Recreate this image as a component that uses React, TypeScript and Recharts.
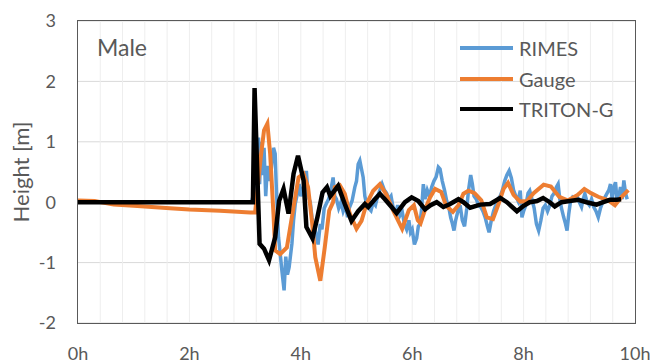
import React from "react";
import {
  LineChart,
  Line,
  XAxis,
  YAxis,
  CartesianGrid,
  ReferenceLine,
} from "recharts";

const xTicks = [0, 2, 4, 6, 8, 10];
const yTicks = [-2, -1, 0, 1, 2, 3];
const verticalGrid = [0.4, 0.8, 1.2, 1.6, 2, 2.4, 2.8, 3.2, 3.6, 4, 4.4, 4.8, 5.2, 5.6, 6, 6.4, 6.8, 7.2, 7.6, 8, 8.4, 8.8, 9.2, 9.6];

const rimes: [number, number][] = [
  [0, 0], [3.05, 0], [3.12, 0.02], [3.2, 0.3], [3.24, 1.07], [3.26, 0.3], [3.29, 1.0], [3.31, 0.45],
  [3.34, 0.9], [3.37, 0.1], [3.4, 0.6], [3.44, 0.35], [3.47, 0.55], [3.51, 0.9], [3.54, 0.8], [3.56, 0.25],
  [3.6, -0.58], [3.63, -0.85], [3.66, -1.13], [3.7, -1.46], [3.73, -0.9], [3.76, -1.2], [3.79, -1.08],
  [3.84, -0.69], [3.87, -0.3], [3.9, -0.03], [3.94, 0.15], [3.97, 0.3], [4.0, 0.1], [4.03, 0.2], [4.07, 0.1],
  [4.1, 0.52], [4.13, 0.1], [4.17, 0], [4.2, -0.25], [4.24, -0.4], [4.28, -0.55], [4.31, -0.7], [4.35, -0.36],
  [4.38, -0.45], [4.42, -0.1], [4.47, 0], [4.5, 0.05], [4.54, 0.2], [4.58, 0.41], [4.61, 0.1], [4.64, 0.05],
  [4.68, -0.1], [4.72, 0.0], [4.76, -0.15], [4.8, -0.05], [4.84, -0.25], [4.87, -0.1], [4.92, 0.02],
  [4.97, 0.25], [5.0, 0.35], [5.03, 0.63], [5.06, 0.69], [5.09, 0.55], [5.12, 0.41], [5.15, 0.1],
  [5.18, -0.03], [5.22, -0.1], [5.26, -0.14], [5.3, 0.0], [5.34, -0.05], [5.38, 0.1], [5.42, 0.2],
  [5.46, 0.3], [5.5, 0.2], [5.54, 0.15], [5.58, 0.05], [5.62, 0.1], [5.66, -0.1], [5.7, -0.19],
  [5.74, -0.05], [5.78, -0.22], [5.82, -0.15], [5.86, -0.36], [5.9, -0.45], [5.94, -0.3], [5.97, -0.5],
  [6.0, -0.45], [6.04, -0.7], [6.08, -0.6], [6.11, -0.4], [6.14, -0.36], [6.17, -0.1], [6.2, 0.3],
  [6.23, 0.05], [6.27, 0.2], [6.31, 0.1], [6.35, 0.25], [6.39, 0.35], [6.43, 0.42], [6.47, 0.58],
  [6.5, 0.55], [6.54, 0.35], [6.58, 0.2], [6.62, 0.02], [6.66, -0.1], [6.69, -0.25], [6.72, -0.35],
  [6.75, -0.47], [6.78, -0.3], [6.82, -0.15], [6.86, -0.05], [6.9, -0.3], [6.94, -0.4], [6.98, -0.1],
  [7.01, 0.19], [7.05, 0.45], [7.08, 0.3], [7.11, 0.1], [7.15, 0.05], [7.19, -0.05], [7.23, -0.08],
  [7.27, -0.15], [7.31, -0.25], [7.35, -0.4], [7.38, -0.5], [7.42, -0.3], [7.46, -0.15], [7.5, -0.05],
  [7.54, 0.05], [7.58, 0.1], [7.62, 0.2], [7.66, 0.35], [7.7, 0.45], [7.74, 0.52], [7.78, 0.4],
  [7.82, 0.2], [7.86, 0.1], [7.9, 0.02], [7.94, 0.19], [7.97, -0.25], [8.0, -0.15], [8.04, -0.05],
  [8.08, 0.15], [8.11, 0.19], [8.15, 0.05], [8.19, -0.1], [8.23, -0.36], [8.27, -0.47], [8.31, -0.3],
  [8.35, -0.1], [8.39, -0.05], [8.43, -0.15], [8.47, -0.05], [8.51, 0.1], [8.55, 0.15], [8.59, 0.25],
  [8.62, 0.3], [8.65, 0.05], [8.68, -0.1], [8.72, -0.25], [8.75, -0.35], [8.78, -0.47], [8.81, -0.2],
  [8.84, 0.0], [8.88, 0.08], [8.92, 0.05], [8.96, 0.1], [9.0, 0.0], [9.04, -0.08], [9.07, 0.05],
  [9.1, 0.14], [9.14, 0.0], [9.18, -0.05], [9.22, 0.05], [9.26, -0.08], [9.3, -0.15], [9.34, -0.25],
  [9.38, -0.1], [9.42, 0.0], [9.46, 0.08], [9.5, 0.15], [9.53, 0.2], [9.56, 0.3], [9.59, 0.05],
  [9.62, 0.25], [9.65, 0.33], [9.68, 0.0], [9.71, 0.1], [9.74, 0.25], [9.77, 0.05], [9.8, 0.36],
  [9.83, 0.15], [9.86, 0.05],
];

const gauge: [number, number][] = [
  [0, 0.03], [0.3, 0.02], [0.64, -0.04], [1.0, -0.06], [1.65, -0.1], [2.0, -0.12], [2.55, -0.14],
  [3.09, -0.17], [3.18, -0.17], [3.22, 0.2], [3.28, 0.74], [3.34, 1.19], [3.4, 1.3], [3.45, 0.8],
  [3.51, -0.2], [3.54, -0.8], [3.63, -0.86], [3.75, -0.75], [3.87, -0.08], [3.96, 0.41], [4.05, 0.47],
  [4.13, 0.25], [4.2, -0.31], [4.26, -0.91], [4.35, -1.3], [4.43, -0.75], [4.51, -0.14], [4.58, 0.0],
  [4.61, 0.25], [4.7, 0.28], [4.79, 0.14], [4.88, -0.19], [5.0, -0.44], [5.09, -0.31], [5.18, -0.03],
  [5.3, 0.19], [5.42, 0.3], [5.54, 0.12], [5.67, -0.16], [5.82, -0.44], [5.94, -0.13], [6.03, -0.05],
  [6.1, -0.3], [6.15, -0.35], [6.24, -0.1], [6.32, 0.08], [6.41, 0.22], [6.52, 0.17], [6.61, -0.06],
  [6.73, -0.16], [6.83, -0.05], [6.92, 0.14], [7.01, 0.19], [7.12, 0.15], [7.24, 0.03], [7.34, -0.25],
  [7.45, -0.28], [7.55, -0.03], [7.64, 0.22], [7.72, 0.32], [7.82, 0.12], [7.94, 0.01], [8.06, 0.02],
  [8.18, 0.15], [8.36, 0.29], [8.49, 0.26], [8.64, 0.09], [8.79, 0.03], [8.97, 0.12], [9.09, 0.22],
  [9.21, 0.15], [9.34, 0.09], [9.52, 0.03], [9.64, -0.05], [9.76, 0.09], [9.88, 0.2],
];

const triton: [number, number][] = [
  [0, 0], [3.14, 0], [3.17, 1.89], [3.26, -0.69], [3.34, -0.77], [3.43, -0.96], [3.54, -0.58],
  [3.61, 0.02], [3.69, 0.22], [3.78, -0.19], [3.87, 0.47], [3.95, 0.77], [4.05, 0.36], [4.1, -0.41],
  [4.21, -0.6], [4.3, -0.24], [4.39, 0.16], [4.47, 0.25], [4.53, 0.1], [4.67, 0.27], [4.79, -0.03],
  [4.91, -0.31], [5.03, -0.15], [5.15, -0.03], [5.21, -0.08], [5.33, 0.05], [5.42, 0.14], [5.51, 0.05],
  [5.63, -0.08], [5.72, -0.18], [5.87, 0], [5.99, 0.08], [6.11, 0.02], [6.23, -0.12], [6.33, -0.05],
  [6.44, 0], [6.56, -0.08], [6.68, -0.03], [6.83, 0.05], [6.92, 0], [7.04, -0.09], [7.22, -0.04],
  [7.4, -0.03], [7.58, 0.07], [7.7, 0], [7.88, -0.15], [8.0, -0.06], [8.11, 0], [8.24, 0.02],
  [8.35, 0.07], [8.47, 0], [8.56, -0.07], [8.68, 0], [8.83, 0.02], [8.98, 0.04], [9.13, 0],
  [9.31, -0.04], [9.43, 0], [9.55, 0.04], [9.67, 0.04], [9.75, 0.05],
];

const toRows = (pairs: [number, number][]) => pairs.map(([h, v]) => ({ h, v }));

const FONT = "Lato, 'Open Sans', sans-serif";
const TEXT = "#595959";

const legendItems = [
  { name: "RIMES", color: "#5B9BD5" },
  { name: "Gauge", color: "#ED7D31" },
  { name: "TRITON-G", color: "#000000" },
];

export default function App() {
  return (
    <div style={{ position: "absolute", left: 0, top: 0, width: 656, height: 364, background: "#fff", fontFamily: FONT }}>
      <LineChart width={656} height={364} margin={{ top: 21, right: 21, bottom: 0, left: 0 }}>
        <CartesianGrid horizontal={true} vertical={false} stroke="#D9D9D9" />
        {verticalGrid.map((g) => (
          <ReferenceLine key={g} x={g} stroke="#EEEEEE" strokeWidth={1} />
        ))}
        <XAxis
          dataKey="h"
          type="number"
          domain={[0, 10]}
          ticks={xTicks}
          tickFormatter={(v) => `${v}h`}
          axisLine={false}
          tickLine={false}
          height={41}
          tick={{ fill: TEXT, fontSize: 18, fontFamily: FONT, dy: 16 }}
          allowDuplicatedCategory={false}
        />
        <YAxis
          type="number"
          domain={[-2, 3]}
          ticks={yTicks}
          axisLine={false}
          tickLine={false}
          width={78}
          tick={{ fill: TEXT, fontSize: 18, fontFamily: FONT, dx: -14 }}
          label={{
            value: "Height [m]",
            angle: -90,
            position: "insideLeft",
            dx: 16,
            fill: TEXT,
            fontSize: 22,
            fontFamily: FONT,
            style: { textAnchor: "middle" },
          }}
        />
        <Line data={toRows(rimes)} dataKey="v" name="RIMES" stroke="#5B9BD5" strokeWidth={3.5} dot={false} isAnimationActive={false} />
        <Line data={toRows(gauge)} dataKey="v" name="Gauge" stroke="#ED7D31" strokeWidth={4} dot={false} isAnimationActive={false} />
        <Line data={toRows(triton)} dataKey="v" name="TRITON-G" stroke="#000000" strokeWidth={4.5} dot={false} isAnimationActive={false} />
      </LineChart>
      <div
        style={{
          position: "absolute",
          left: 77,
          top: 20,
          width: 557,
          height: 302,
          border: "1.5px solid #595959",
          pointerEvents: "none",
        }}
      />
      <div style={{ position: "absolute", left: 97, top: 33, fontSize: 23, color: TEXT, fontFamily: FONT }}>Male</div>
      <div style={{ position: "absolute", left: 460, top: 33 }}>
        {legendItems.map((it) => (
          <div key={it.name} style={{ display: "flex", alignItems: "center", height: 30.5 }}>
            <svg width={54} height={6}>
              <line x1={0} y1={3} x2={53} y2={3} stroke={it.color} strokeWidth={4} />
            </svg>
            <span style={{ marginLeft: 5, fontSize: 20, color: TEXT, fontFamily: FONT, lineHeight: "20px" }}>{it.name}</span>
          </div>
        ))}
      </div>
    </div>
  );
}
